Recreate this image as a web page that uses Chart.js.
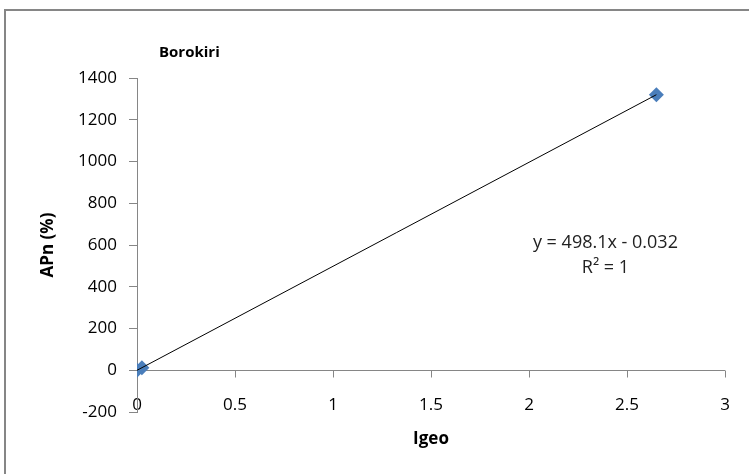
<!DOCTYPE html>
<html>
<head>
<meta charset="utf-8">
<script src="https://cdn.jsdelivr.net/npm/chart.js@4.4.0/dist/chart.umd.min.js"></script>
<style>
  html, body { margin: 0; padding: 0; background: #fff; }
  #wrap { position: relative; width: 749px; height: 474px; }
</style>
</head>
<body>
<div id="wrap"><canvas id="chart" width="749" height="474"></canvas></div>
<script>
// Data
const igeo = [0, 0.025, 2.65];
const apn = [0, 12, 1320];

// Axis limits and text
const xTicks = [0, 0.5, 1, 1.5, 2, 2.5, 3];
const yTicks = [-200, 0, 200, 400, 600, 800, 1000, 1200, 1400];
const chartTitle = 'Borokiri';
const xTitle = 'Igeo';
const yTitle = 'APn (%)';
const trendText = ['y = 498.1x - 0.032', 'R\u00B2 = 1'];
const trendTextAt = [2.39, 610]; // data coords of the equation label

const FONT = '"Open Sans", "Liberation Sans", sans-serif';
const AXIS = '#868686';

// least squares fit of the points for the trend line
function fit(xs, ys) {
    const n = xs.length;
    const mx = xs.reduce((a, b) => a + b, 0) / n;
    const my = ys.reduce((a, b) => a + b, 0) / n;
    let sxy = 0, sxx = 0;
    for (let i = 0; i < n; i++) {
        sxy += (xs[i] - mx) * (ys[i] - my);
        sxx += (xs[i] - mx) * (xs[i] - mx);
    }
    const m = sxy / sxx;
    return { m: m, b: my - m * mx };
}
const lr = fit(igeo, apn);
const xMin = Math.min(...igeo), xMax = Math.max(...igeo);
const trend = [
    { x: xMin, y: lr.m * xMin + lr.b },
    { x: xMax, y: lr.m * xMax + lr.b }
];

// draws the frame, the zero line of the x axis, titles and the equation
const extras = {
    id: 'extras',
    beforeDatasetsDraw(chart) {
        const c = chart.ctx;
        const xs = chart.scales.x, ys = chart.scales.y;
        const y0 = Math.round(ys.getPixelForValue(0)) + 0.5;
        c.save();
        c.strokeStyle = AXIS;
        c.lineWidth = 1;
        c.beginPath();
        c.moveTo(chart.chartArea.left, y0);
        c.lineTo(chart.chartArea.right, y0);
        xTicks.forEach(v => {
            const px = Math.round(xs.getPixelForValue(v)) + 0.5;
            c.moveTo(px, y0);
            c.lineTo(px, y0 + 7);
        });
        c.stroke();
        c.restore();
    },
    afterDraw(chart) {
        const c = chart.ctx;
        const xs = chart.scales.x, ys = chart.scales.y;
        c.save();
        // outer frame (only top and left show in the picture)
        c.strokeStyle = AXIS;
        c.lineWidth = 2;
        c.beginPath();
        c.moveTo(5, 474);
        c.lineTo(5, 10);
        c.lineTo(749, 10);
        c.stroke();

        c.fillStyle = '#000';
        c.font = 'bold 15px ' + FONT;
        c.textAlign = 'left';
        c.textBaseline = 'middle';
        c.fillText(chartTitle, 159, 53);

        c.font = 'bold 17px ' + FONT;
        c.textAlign = 'center';
        c.fillText(xTitle, (chart.chartArea.left + chart.chartArea.right) / 2, 439);
        c.save();
        c.translate(48, (chart.chartArea.top + chart.chartArea.bottom) / 2);
        c.rotate(-Math.PI / 2);
        c.fillText(yTitle, 0, 0);
        c.restore();

        c.font = '18px ' + FONT;
        c.fillStyle = '#222';
        const tx = xs.getPixelForValue(trendTextAt[0]);
        const ty = ys.getPixelForValue(trendTextAt[1]);
        c.fillText(trendText[0], tx, ty);
        c.fillText(trendText[1], tx, ty + 25);
        c.restore();
    }
};

new Chart(document.getElementById('chart'), {
    type: 'scatter',
    data: {
        datasets: [{
            label: 'Trend',
            data: trend,
            type: 'line',
            borderColor: '#000',
            borderWidth: 1,
            pointRadius: 0,
            fill: false
        }, {
            label: chartTitle,
            data: igeo.map((x, i) => ({ x: x, y: apn[i] })),
            pointStyle: 'rectRot',
            pointRadius: 7.5,
            backgroundColor: '#4A7EBB',
            borderColor: '#4A7EBB',
            borderWidth: 0
        }]
    },
    options: {
        responsive: false,
        animation: false,
        layout: { padding: { left: 60, top: 78, right: 24, bottom: 20 } },
        plugins: {
            legend: { display: false },
            tooltip: { enabled: false }
        },
        scales: {
            x: {
                type: 'linear',
                min: xTicks[0],
                max: xTicks[xTicks.length - 1],
                afterBuildTicks: s => { s.ticks = xTicks.map(v => ({ value: v })); },
                grid: { display: false, drawTicks: false },
                border: { display: false },
                ticks: {
                    color: '#000',
                    font: { family: FONT, size: 17 },
                    mirror: true,
                    padding: -3,
                    callback: v => String(v)
                },
                afterFit: s => { s.height = 474 - 412 - 20; }
            },
            y: {
                min: yTicks[0],
                max: yTicks[yTicks.length - 1],
                afterBuildTicks: s => { s.ticks = yTicks.map(v => ({ value: v })); },
                grid: { drawOnChartArea: false, tickLength: 8, color: AXIS },
                border: { display: true, color: AXIS },
                ticks: {
                    color: '#000',
                    font: { family: FONT, size: 17 },
                    padding: 12,
                    callback: v => String(v)
                },
                afterFit: s => { s.width = 137 - 60; }
            }
        }
    },
    plugins: [extras]
});
</script>
</body>
</html>
